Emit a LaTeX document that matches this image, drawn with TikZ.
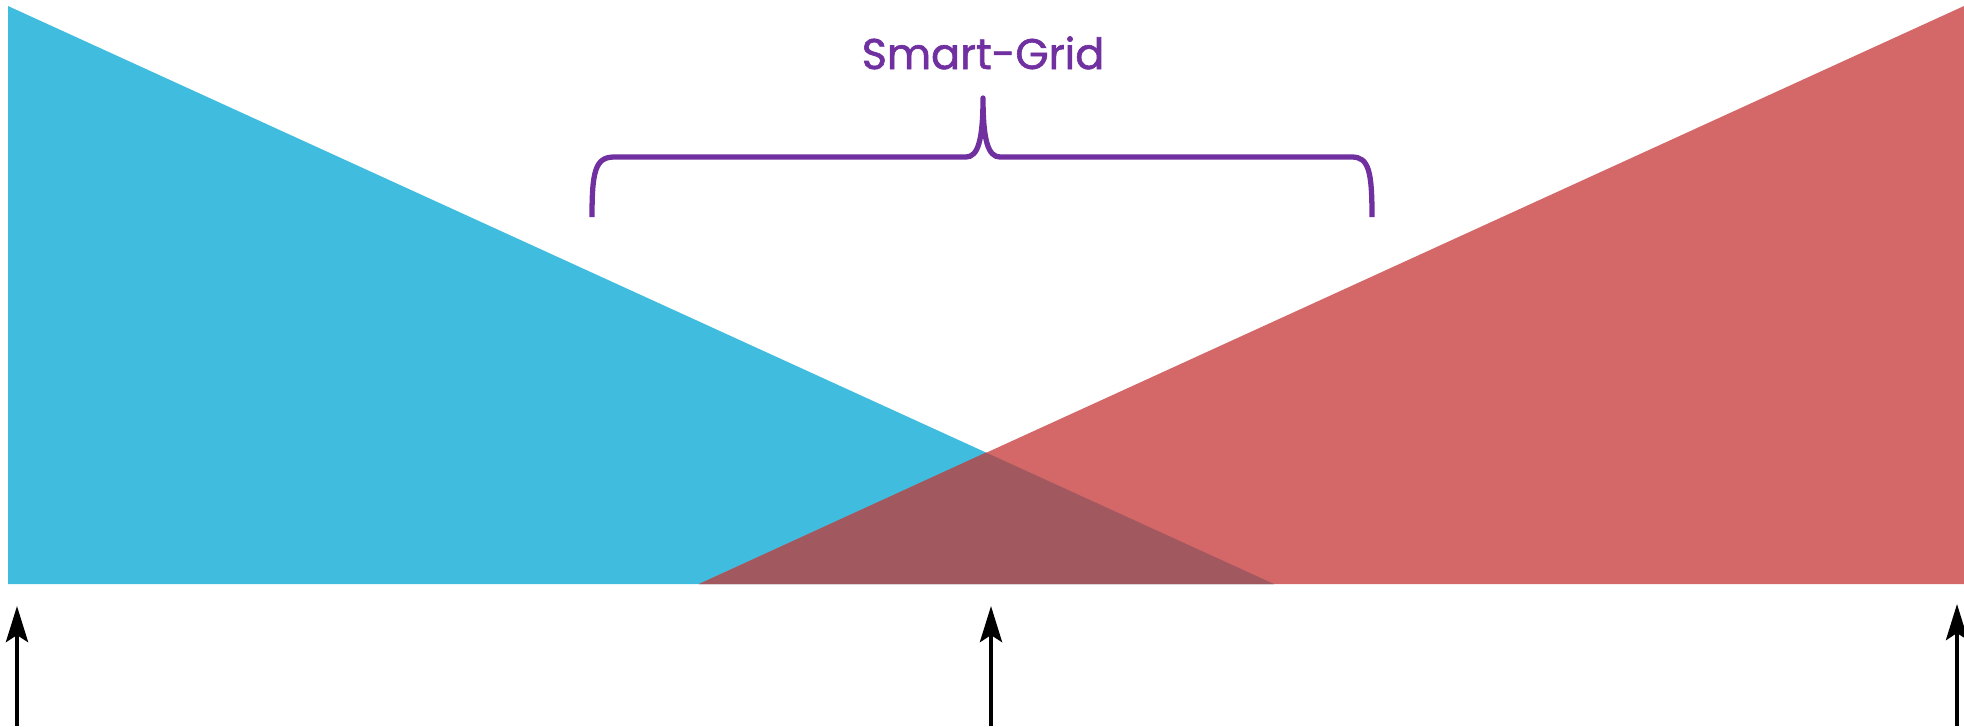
\documentclass[tikz,border=0pt]{standalone}
\usepackage{fontspec}
\setmainfont{Poppins}[FakeBold=1.4]
\usetikzlibrary{arrows.meta}
\definecolor{cblue}{RGB}{64,189,222}
\definecolor{cred}{RGB}{212,104,104}
\definecolor{cdark}{RGB}{162,88,95}
\definecolor{cpurple}{RGB}{112,48,160}
\begin{document}
\begin{tikzpicture}[x=0.01cm,y=-0.01cm,
  uparrow/.style={line width=1.25pt,-{Stealth[length=0.36cm,width=0.22cm,inset=0.07cm]}},
  bracepath/.style={cpurple,line width=1.5pt,line cap=butt,line join=round},
  label/.style={text=cpurple,font=\fontsize{12.2}{15}\selectfont,inner sep=0pt,anchor=base}]
\useasboundingbox (0,0) rectangle (1964,726);
% triangles
\fill[cblue] (8,6) -- (8,584) -- (1274,584) -- cycle;
\fill[cred] (1964,6) -- (1964,584) -- (699,584) -- cycle;
\fill[cdark] (699,584) -- (986,452.5) -- (1274,584) -- cycle;
% label
\node[label] (sg) at (983,69) {Smart-Grid};
% brace
\coordinate (bl) at (592,217);
\coordinate (bt) at (983,98);
\coordinate (br) at (1372,217);
\draw[bracepath] (bl) .. controls (592,172) and (595,157) .. (614,157) -- (966,157)
  .. controls (978,157) and (983,140) .. (bt)
  .. controls (983,140) and (988,157) .. (1000,157) -- (1352,157)
  .. controls (1369,157) and (1372,172) .. (br);
% arrows
\coordinate (a1s) at (17,726); \coordinate (a1e) at (17,606);
\coordinate (a2s) at (991,726); \coordinate (a2e) at (991,606);
\coordinate (a3s) at (1957,726); \coordinate (a3e) at (1957,604);
\draw[uparrow] (a1s) -- (a1e);
\draw[uparrow] (a2s) -- (a2e);
\draw[uparrow] (a3s) -- (a3e);
\end{tikzpicture}
\end{document}
